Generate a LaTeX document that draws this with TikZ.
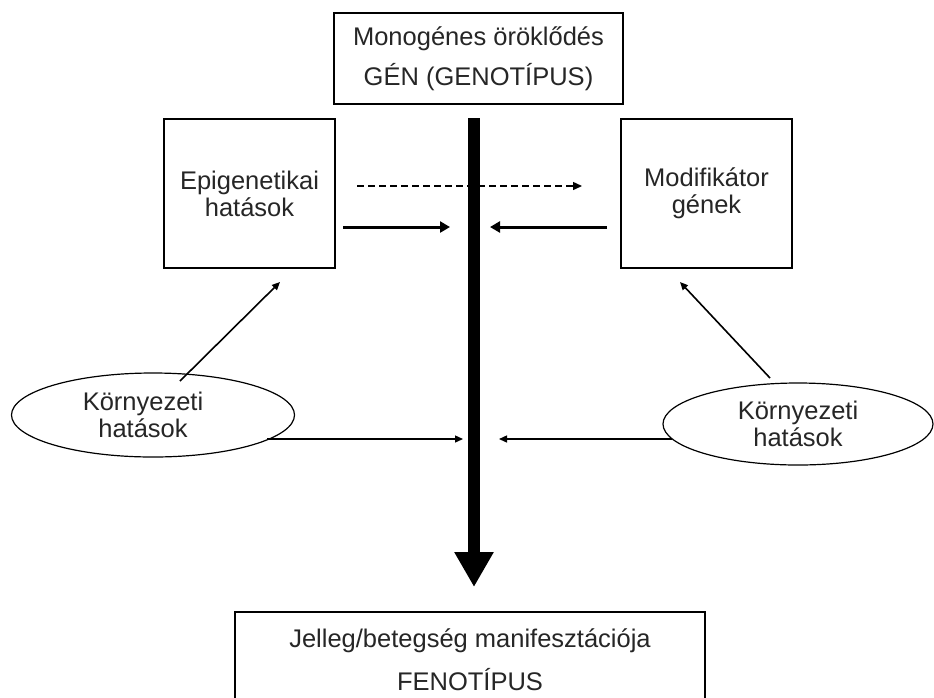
\documentclass[tikz,border=0pt]{standalone}
\usepackage{fontspec}
\setmainfont{Liberation Sans}
\usetikzlibrary{arrows.meta,shapes.geometric}
\begin{document}
\begin{tikzpicture}[x=1pt,y=-1pt,
  txt/.style={font=\fontsize{25.5}{27}\selectfont, text=black!85, align=center},
  box/.style={draw, line width=1.3pt, inner sep=0pt, txt},
  oval/.style={draw, ellipse, line width=1.2pt, inner sep=0pt, txt},
  boldarr/.style={line width=3pt, -{Triangle[length=10pt,width=11pt]}},
  thinarr/.style={line width=1.4pt, -{Triangle[length=8pt,width=7pt]}},
  dasharr/.style={line width=1.4pt, dash pattern=on 7pt off 4pt, -{Triangle[length=9pt,width=8pt]}},
]
\useasboundingbox (0,0) rectangle (934,697);
\clip (0,0) rectangle (934,697);
\fill[white] (0,0) rectangle (934,697);

\node[box, minimum width=289pt, minimum height=91pt, font=\fontsize{25.5}{40}\selectfont] (gen) at (478.5,58.5) {Monogénes öröklődés\\GÉN (GENOTÍPUS)};
\node[box, minimum width=171pt, minimum height=149pt] (epi) at (249.5,193.5) {Epigenetikai\\hatások};
\node[box, minimum width=171pt, minimum height=149pt] (mod) at (706.5,193.5) {Modifikátor\\gének};
\node[box, minimum width=470pt, minimum height=96pt, font=\fontsize{25.5}{43}\selectfont] (fen) at (470,660) {Jelleg/betegség manifesztációja\\FENOTÍPUS};
\node[oval, minimum width=283pt, minimum height=84pt] (envL) at (153,415) {Környezeti\hspace*{20pt}\\hatások\hspace*{20pt}};
\node[oval, minimum width=270pt, minimum height=82pt] (envR) at (798,424) {Környezeti\\hatások};

% main thick arrow
\coordinate (barTop) at (474,118);
\coordinate (barTip) at (474,587);
\draw[line width=12.5pt, -{Triangle[length=35pt,width=37pt]}] (barTop) -- (barTip);

% dashed arrow
\coordinate (dA) at (357,186);
\coordinate (dB) at (582,186);
\draw[dasharr] (dA) -- (dB);

% bold arrows
\coordinate (bL1) at (343,227);
\coordinate (bL2) at (450,227);
\coordinate (bR1) at (607,227);
\coordinate (bR2) at (490,227);
\draw[boldarr] (bL1) -- (bL2);
\draw[boldarr] (bR1) -- (bR2);

% thin arrows from environment
\coordinate (tL1) at (267,439);
\coordinate (tL2) at (463,439);
\coordinate (tR1) at (672,439);
\coordinate (tR2) at (499,439);
\draw[thinarr] (tL1) -- (tL2);
\draw[thinarr] (tR1) -- (tR2);

% diagonal arrows
\coordinate (gL1) at (180,381);
\coordinate (gL2) at (280,282);
\coordinate (gR1) at (770,378);
\coordinate (gR2) at (680,282);
\draw[thinarr, line width=1.6pt] (gL1) -- (gL2);
\draw[thinarr, line width=1.6pt] (gR1) -- (gR2);
\end{tikzpicture}
\end{document}
